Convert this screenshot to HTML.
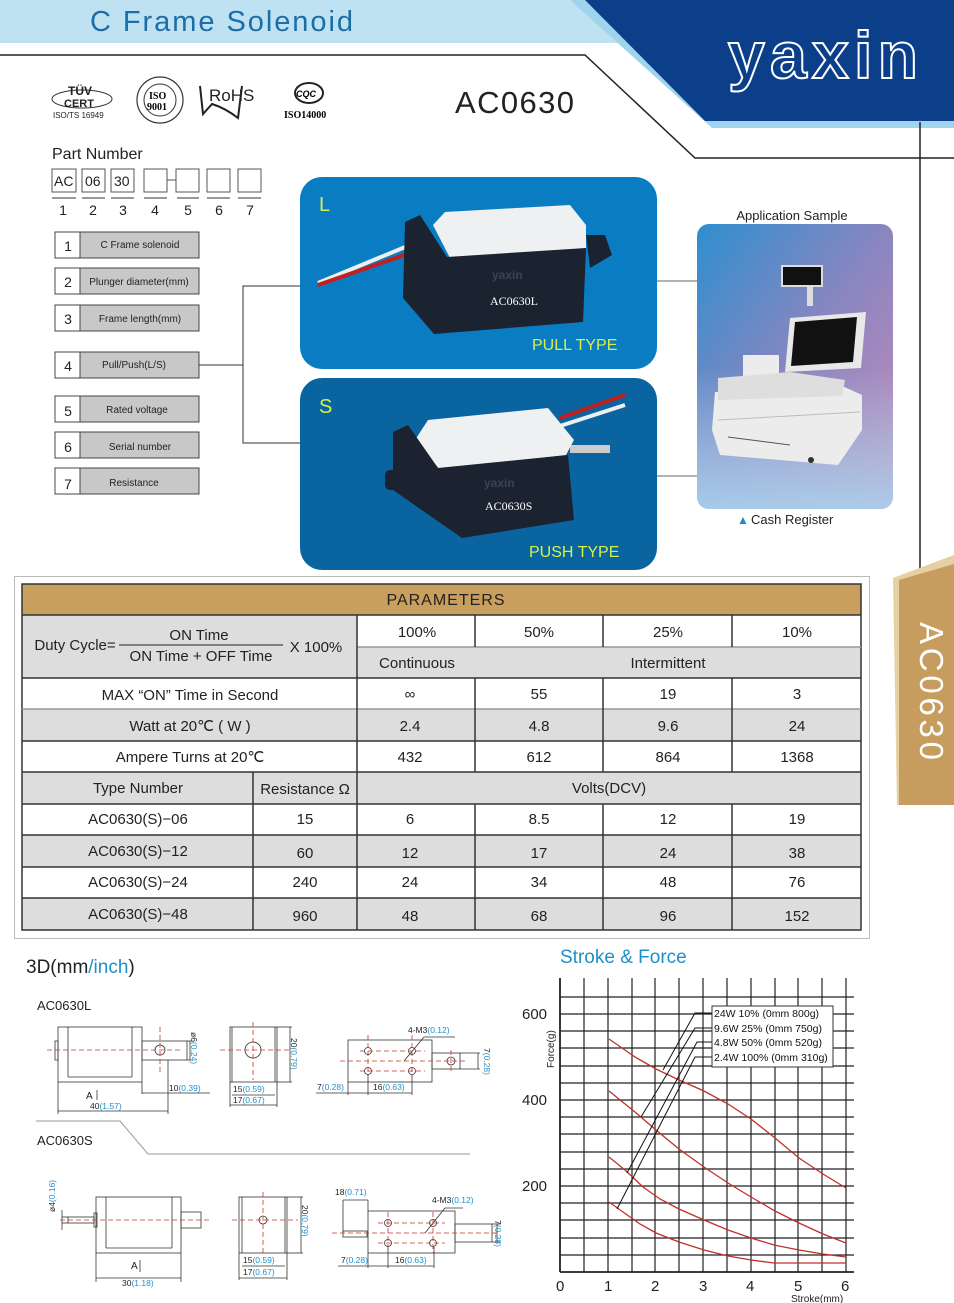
<!DOCTYPE html>
<html><head><meta charset="utf-8"><style>
html,body{margin:0;padding:0;background:#fff;}
svg{display:block;font-family:"Liberation Sans",sans-serif;}
</style></head><body>
<svg width="954" height="1303" viewBox="0 0 954 1303" xmlns="http://www.w3.org/2000/svg">
<defs>
<linearGradient id="app" x1="0" y1="0" x2="1" y2="1">
<stop offset="0" stop-color="#2f8fcf"/><stop offset="0.5" stop-color="#8a86c0"/><stop offset="1" stop-color="#c58ab8"/>
</linearGradient>
<linearGradient id="app2" x1="0" y1="1" x2="0" y2="0">
<stop offset="0" stop-color="#a9d3ee" stop-opacity="0.9"/><stop offset="0.5" stop-color="#a9d3ee" stop-opacity="0"/>
</linearGradient>
</defs>

<!-- header -->
<rect x="0" y="0" width="620" height="43" fill="#bfe2f2"/>
<polygon points="570,0 954,0 954,128 712,128" fill="#9fd3ee"/>
<polygon points="585,0 954,0 954,121 705,121" fill="#0b3f8a"/>
<text x="90" y="31" font-size="29" fill="#1b6ea8" textLength="263">C Frame Solenoid</text>
<text x="728" y="78" font-size="66" font-weight="bold" fill="#0b3f8a" stroke="#fff" stroke-width="2" letter-spacing="2" textLength="192">yaxin</text>
<polyline points="0,55 585,55 695,158 954,158" fill="none" stroke="#222" stroke-width="1.5"/>
<line x1="920" y1="122" x2="920" y2="578" stroke="#222" stroke-width="1.5"/>

<!-- cert logos -->
<ellipse cx="82" cy="99" rx="30" ry="9" fill="none" stroke="#333" stroke-width="1"/>
<text x="68" y="95" font-size="12" font-weight="bold" fill="#222">TÜV</text>
<text x="64" y="107" font-size="11" font-weight="bold" fill="#222">CERT</text>
<text x="53" y="118" font-size="8" fill="#222">ISO/TS 16949</text>
<circle cx="160" cy="100" r="23" fill="none" stroke="#333" stroke-width="1.2"/>
<circle cx="160" cy="100" r="16" fill="none" stroke="#333" stroke-width="1"/>
<text x="149" y="99" font-size="10" font-family="Liberation Serif" font-weight="bold">ISO</text>
<text x="147" y="110" font-size="10" font-family="Liberation Serif" font-weight="bold">9001</text>
<text x="209" y="101" font-size="17" fill="#222">RoHS</text>
<path d="M200,86 L203,114 L212,104 Q225,108 238,118 L242,86" fill="none" stroke="#222" stroke-width="2"/>
<ellipse cx="309" cy="93" rx="14" ry="10" fill="none" stroke="#222" stroke-width="2"/>
<text x="296" y="97" font-size="9" font-weight="bold" font-style="italic">CQC</text>
<text x="284" y="118" font-size="10" font-family="Liberation Serif" font-weight="bold">ISO14000</text>
<text x="455" y="113" font-size="31" fill="#222" textLength="119">AC0630</text>

<!-- part number -->
<text x="52" y="159" font-size="16" fill="#222">Part Number</text>
<g fill="none" stroke="#555" stroke-width="1">
<rect x="52" y="169" width="24" height="23"/><rect x="82" y="169" width="23" height="23"/><rect x="111" y="169" width="23" height="23"/>
<rect x="144" y="169" width="23" height="23"/><rect x="176" y="169" width="23" height="23"/><rect x="207" y="169" width="23" height="23"/><rect x="238" y="169" width="23" height="23"/>
<line x1="167" y1="180" x2="176" y2="180"/>
</g>
<g font-size="14" fill="#222"><text x="54" y="186">AC</text><text x="85" y="186">06</text><text x="114" y="186">30</text></g>
<g stroke="#333" stroke-width="1"><line x1="52" y1="198" x2="76" y2="198"/><line x1="82" y1="198" x2="105" y2="198"/><line x1="111" y1="198" x2="134" y2="198"/><line x1="144" y1="198" x2="167" y2="198"/><line x1="177" y1="198" x2="199" y2="198"/><line x1="207" y1="198" x2="230" y2="198"/><line x1="238" y1="198" x2="261" y2="198"/></g>
<g font-size="14" fill="#222" text-anchor="middle"><text x="63" y="215">1</text><text x="93" y="215">2</text><text x="123" y="215">3</text><text x="155" y="215">4</text><text x="188" y="215">5</text><text x="219" y="215">6</text><text x="250" y="215">7</text></g>

<g font-size="10" fill="#222">
<g transform="translate(0,232)"><rect x="55" y="0" width="144" height="26" fill="#c8c8c8" stroke="#444"/><rect x="55" y="0" width="25" height="26" fill="#fff" stroke="#444"/><text x="68" y="19" font-size="14" text-anchor="middle">1</text><text x="140" y="16" text-anchor="middle">C Frame solenoid</text></g>
<g transform="translate(0,268)"><rect x="55" y="0" width="144" height="26" fill="#c8c8c8" stroke="#444"/><rect x="55" y="0" width="25" height="26" fill="#fff" stroke="#444"/><text x="68" y="19" font-size="14" text-anchor="middle">2</text><text x="139" y="17" text-anchor="middle">Plunger diameter(mm)</text></g>
<g transform="translate(0,305)"><rect x="55" y="0" width="144" height="26" fill="#c8c8c8" stroke="#444"/><rect x="55" y="0" width="25" height="26" fill="#fff" stroke="#444"/><text x="68" y="19" font-size="14" text-anchor="middle">3</text><text x="140" y="17" text-anchor="middle">Frame length(mm)</text></g>
<g transform="translate(0,352)"><rect x="55" y="0" width="144" height="26" fill="#c8c8c8" stroke="#444"/><rect x="55" y="0" width="25" height="26" fill="#fff" stroke="#444"/><text x="68" y="19" font-size="14" text-anchor="middle">4</text><text x="134" y="16" text-anchor="middle">Pull/Push(L/S)</text></g>
<g transform="translate(0,396)"><rect x="55" y="0" width="144" height="26" fill="#c8c8c8" stroke="#444"/><rect x="55" y="0" width="25" height="26" fill="#fff" stroke="#444"/><text x="68" y="20" font-size="14" text-anchor="middle">5</text><text x="137" y="17" text-anchor="middle">Rated voltage</text></g>
<g transform="translate(0,432)"><rect x="55" y="0" width="144" height="26" fill="#c8c8c8" stroke="#444"/><rect x="55" y="0" width="25" height="26" fill="#fff" stroke="#444"/><text x="68" y="20" font-size="14" text-anchor="middle">6</text><text x="140" y="18" text-anchor="middle">Serial number</text></g>
<g transform="translate(0,468)"><rect x="55" y="0" width="144" height="26" fill="#c8c8c8" stroke="#444"/><rect x="55" y="0" width="25" height="26" fill="#fff" stroke="#444"/><text x="68" y="21" font-size="14" text-anchor="middle">7</text><text x="134" y="18" text-anchor="middle">Resistance</text></g>
</g>
<polyline points="199,365 243,365" stroke="#333" fill="none"/>
<polyline points="300,286 243,286 243,443 300,443" stroke="#333" fill="none"/>

<!-- product photos -->
<rect x="300" y="177" width="357" height="192" rx="22" fill="#0a7cc2"/>
<rect x="300" y="378" width="357" height="192" rx="22" fill="#0a64a0"/>
<text x="319" y="211" font-size="20" fill="#d6f04a">L</text>
<text x="319" y="413" font-size="20" fill="#d6f04a">S</text>
<text x="532" y="350" font-size="16" fill="#d6f04a">PULL TYPE</text>
<text x="529" y="557" font-size="16" fill="#d6f04a">PUSH TYPE</text>
<line x1="318" y1="283" x2="410" y2="245" stroke="#eee" stroke-width="4"/>
<line x1="318" y1="285" x2="410" y2="253" stroke="#c02020" stroke-width="4"/>
<polygon points="433,225 445,212 570,205 586,225 586,250 450,258" fill="#eef0f2"/>
<polygon points="405,222 420,215 447,257 586,248 583,322 434,334 403,298" fill="#1b2230"/>
<polygon points="586,235 605,235 612,255 590,268" fill="#1b2230"/>
<text x="490" y="305" font-size="12" font-family="Liberation Serif" fill="#fff">AC0630L</text>
<text x="492" y="279" font-size="12" font-weight="bold" fill="#3a4556">yaxin</text>
<line x1="560" y1="418" x2="625" y2="395" stroke="#c02020" stroke-width="4"/>
<line x1="560" y1="426" x2="625" y2="405" stroke="#eee" stroke-width="4"/>
<rect x="570" y="445" width="40" height="8" fill="#ccc"/>
<polygon points="415,440 428,420 548,408 574,440 566,455 440,470" fill="#eef0f2"/>
<polygon points="393,432 408,425 438,468 568,455 574,520 462,538 393,490" fill="#1b2230"/>
<rect x="385" y="470" width="14" height="20" rx="5" fill="#1b2230"/>
<text x="485" y="510" font-size="12" font-family="Liberation Serif" fill="#fff">AC0630S</text>
<text x="484" y="487" font-size="12" font-weight="bold" fill="#3a4556">yaxin</text>

<line x1="657" y1="281" x2="697" y2="281" stroke="#666"/>
<line x1="657" y1="476" x2="697" y2="476" stroke="#666"/>

<!-- application -->
<text x="792" y="220" font-size="13" fill="#222" text-anchor="middle">Application Sample</text>
<rect x="697" y="224" width="196" height="285" rx="12" fill="url(#app)"/>
<rect x="697" y="224" width="196" height="285" rx="12" fill="url(#app2)"/>
<rect x="782" y="266" width="40" height="20" fill="#111" stroke="#ddd" stroke-width="2"/>
<rect x="807" y="286" width="6" height="20" fill="#ddd"/>
<polygon points="790,318 866,312 861,368 785,372" fill="#e8e8e8"/>
<polygon points="795,322 857,317 853,362 791,366" fill="#111"/>
<rect x="743" y="355" width="36" height="30" fill="#ececec"/>
<polygon points="715,392 840,385 862,395 862,430 838,465 720,455 712,430" fill="#ececec"/>
<polygon points="718,378 790,372 845,380 842,396 718,400" fill="#dedede"/>
<line x1="718" y1="420" x2="860" y2="412" stroke="#bbb"/>
<line x1="728" y1="437" x2="790" y2="445" stroke="#555"/>
<circle cx="811" cy="460" r="3" fill="#333"/>
<text x="737" y="524" font-size="12" fill="#1f8fc8">▲</text>
<text x="751" y="524" font-size="13" fill="#222">Cash Register</text>

<!-- tan tab -->
<polygon points="893,578 954,555 954,805 897,805" fill="#e6cfa0"/>
<polygon points="899,580 954,564 954,805 899,805" fill="#c69c5f"/>
<text transform="translate(920,622) rotate(90)" font-size="33" fill="#fff" textLength="138">AC0630</text>

<!-- parameters table -->
<rect x="14.5" y="576.5" width="855" height="362" fill="none" stroke="#bbb"/>
<rect x="22" y="584" width="839" height="31" fill="#c99f5e"/>
<text x="446" y="605" font-size="16" fill="#222" text-anchor="middle" letter-spacing="1">PARAMETERS</text>
<rect x="22" y="615" width="335" height="63" fill="#dddddd"/>
<rect x="357" y="647" width="504" height="31" fill="#dddddd"/>
<rect x="22" y="709" width="839" height="32" fill="#dddddd"/>
<rect x="22" y="772" width="839" height="32" fill="#dddddd"/>
<rect x="22" y="835" width="839" height="32" fill="#dddddd"/>
<rect x="22" y="898" width="839" height="32" fill="#dddddd"/>
<g stroke="#333" stroke-width="1.5" fill="none">
<rect x="22" y="584" width="839" height="346"/>
<line x1="22" y1="615" x2="861" y2="615"/>
<line x1="357" y1="647" x2="861" y2="647" stroke="#999"/>
<line x1="22" y1="678" x2="861" y2="678"/>
<line x1="22" y1="709" x2="861" y2="709" stroke="#999"/>
<line x1="22" y1="741" x2="861" y2="741"/>
<line x1="22" y1="772" x2="861" y2="772"/>
<line x1="22" y1="804" x2="861" y2="804"/>
<line x1="22" y1="835" x2="861" y2="835"/>
<line x1="22" y1="867" x2="861" y2="867"/>
<line x1="22" y1="898" x2="861" y2="898"/>
<line x1="357" y1="615" x2="357" y2="930"/>
<line x1="475" y1="615" x2="475" y2="647"/><line x1="603" y1="615" x2="603" y2="647"/><line x1="732" y1="615" x2="732" y2="647"/>
<line x1="475" y1="678" x2="475" y2="772"/><line x1="603" y1="678" x2="603" y2="772"/><line x1="732" y1="678" x2="732" y2="772"/>
<line x1="475" y1="804" x2="475" y2="930"/><line x1="603" y1="804" x2="603" y2="930"/><line x1="732" y1="804" x2="732" y2="930"/>
<line x1="253" y1="772" x2="253" y2="930"/>
</g>
<line x1="119" y1="645" x2="283" y2="645" stroke="#222"/>
<g font-size="15" fill="#222" text-anchor="middle">
<text x="75" y="650">Duty Cycle=</text>
<text x="199" y="640">ON Time</text>
<text x="201" y="661">ON Time + OFF Time</text>
<text x="316" y="652">X 100%</text>
<text x="417" y="637">100%</text><text x="539" y="637">50%</text><text x="668" y="637">25%</text><text x="797" y="637">10%</text>
<text x="417" y="668">Continuous</text><text x="668" y="668">Intermittent</text>
<text x="190" y="700">MAX  “ON”  Time in Second</text>
<text x="410" y="699">∞</text><text x="539" y="699">55</text><text x="668" y="699">19</text><text x="797" y="699">3</text>
<text x="190" y="731">Watt at 20℃ ( W )</text>
<text x="410" y="731">2.4</text><text x="539" y="731">4.8</text><text x="668" y="731">9.6</text><text x="797" y="731">24</text>
<text x="190" y="762">Ampere Turns at 20℃</text>
<text x="410" y="762">432</text><text x="539" y="762">612</text><text x="668" y="762">864</text><text x="797" y="762">1368</text>
<text x="138" y="793">Type Number</text><text x="305" y="794">Resistance Ω</text><text x="609" y="793">Volts(DCV)</text>
<text x="138" y="824">AC0630(S)−06</text><text x="305" y="824">15</text><text x="410" y="824">6</text><text x="539" y="824">8.5</text><text x="668" y="824">12</text><text x="797" y="824">19</text>
<text x="138" y="856">AC0630(S)−12</text><text x="305" y="858">60</text><text x="410" y="858">12</text><text x="539" y="858">17</text><text x="668" y="858">24</text><text x="797" y="858">38</text>
<text x="138" y="887">AC0630(S)−24</text><text x="305" y="887">240</text><text x="410" y="887">24</text><text x="539" y="887">34</text><text x="668" y="887">48</text><text x="797" y="887">76</text>
<text x="138" y="919">AC0630(S)−48</text><text x="305" y="921">960</text><text x="410" y="921">48</text><text x="539" y="921">68</text><text x="668" y="921">96</text><text x="797" y="921">152</text>
</g>

<!-- 3D drawings -->
<text x="26" y="973" font-size="19" fill="#222">3D(mm<tspan fill="#1f8fc8">/inch</tspan>)</text>
<text x="37" y="1010" font-size="13" fill="#222">AC0630L</text>
<text x="37" y="1145" font-size="13" fill="#222">AC0630S</text>
<polyline points="36,1121 120,1121 148,1154 470,1154" fill="none" stroke="#999"/>
<g fill="none" stroke="#333" stroke-width="0.8">
<rect x="58" y="1027" width="84" height="55"/><line x1="68" y1="1027" x2="68" y2="1077"/><line x1="132" y1="1027" x2="132" y2="1077"/><line x1="68" y1="1077" x2="132" y2="1077"/>
<rect x="142" y="1041" width="45" height="19"/><rect x="55" y="1041" width="3" height="19"/>
<circle cx="160" cy="1050" r="5"/>
<line x1="58" y1="1082" x2="58" y2="1114"/><line x1="168" y1="1060" x2="168" y2="1114"/><line x1="58" y1="1111" x2="168" y2="1111"/>
<line x1="142" y1="1082" x2="142" y2="1094"/><line x1="142" y1="1093" x2="210" y2="1093"/>
<line x1="187" y1="1041" x2="192" y2="1041"/><line x1="187" y1="1060" x2="192" y2="1060"/><line x1="190" y1="1041" x2="190" y2="1060"/>
<line x1="97" y1="1090" x2="97" y2="1100"/>
<rect x="230" y="1027" width="47" height="55"/><line x1="232" y1="1027" x2="232" y2="1082"/><line x1="275" y1="1027" x2="275" y2="1082"/>
<circle cx="253" cy="1050" r="8"/>
<line x1="277" y1="1027" x2="292" y2="1027"/><line x1="277" y1="1082" x2="292" y2="1082"/><line x1="290" y1="1027" x2="290" y2="1082"/>
<line x1="232" y1="1095" x2="275" y2="1095"/><line x1="230" y1="1105" x2="277" y2="1105"/><line x1="230" y1="1082" x2="230" y2="1107"/><line x1="277" y1="1082" x2="277" y2="1107"/>
<rect x="348" y="1040" width="84" height="42"/><rect x="432" y="1053" width="28" height="16"/>
<circle cx="368" cy="1051" r="3.5"/><circle cx="412" cy="1051" r="3.5"/><circle cx="368" cy="1071" r="3.5"/><circle cx="412" cy="1071" r="3.5"/>
<circle cx="451" cy="1061" r="4"/>
<line x1="404" y1="1061" x2="424" y2="1037"/><line x1="424" y1="1037" x2="455" y2="1037"/>
<line x1="460" y1="1053" x2="480" y2="1053"/><line x1="460" y1="1069" x2="480" y2="1069"/><line x1="478" y1="1053" x2="478" y2="1069"/>
<line x1="316" y1="1093" x2="412" y2="1093"/><line x1="348" y1="1082" x2="348" y2="1095"/><line x1="368" y1="1075" x2="368" y2="1095"/><line x1="412" y1="1075" x2="412" y2="1095"/>
<rect x="96" y="1197" width="85" height="56"/><line x1="106" y1="1197" x2="106" y2="1248"/><line x1="172" y1="1197" x2="172" y2="1248"/><line x1="106" y1="1248" x2="172" y2="1248"/>
<rect x="181" y="1212" width="20" height="16"/><rect x="68" y="1217" width="26" height="6"/><rect x="94" y="1213" width="3" height="14"/>
<line x1="62" y1="1217" x2="68" y2="1217"/><line x1="62" y1="1223" x2="68" y2="1223"/><line x1="62" y1="1210" x2="62" y2="1230"/>
<line x1="96" y1="1253" x2="96" y2="1282"/><line x1="181" y1="1253" x2="181" y2="1282"/><line x1="96" y1="1278" x2="181" y2="1278"/>
<line x1="140" y1="1260" x2="140" y2="1272"/>
<rect x="239" y="1197" width="48" height="56"/><line x1="242" y1="1197" x2="242" y2="1253"/><line x1="285" y1="1197" x2="285" y2="1253"/>
<circle cx="263" cy="1220" r="4"/>
<line x1="287" y1="1197" x2="303" y2="1197"/><line x1="287" y1="1253" x2="303" y2="1253"/><line x1="301" y1="1197" x2="301" y2="1253"/>
<line x1="242" y1="1266" x2="285" y2="1266"/><line x1="239" y1="1278" x2="287" y2="1278"/><line x1="239" y1="1253" x2="239" y2="1280"/><line x1="287" y1="1253" x2="287" y2="1280"/>
<rect x="368" y="1211" width="87" height="42"/><rect x="455" y="1224" width="37" height="18"/><rect x="343" y="1231" width="24" height="6"/>
<circle cx="388" cy="1223" r="3.5"/><circle cx="433" cy="1223" r="3.5"/><circle cx="388" cy="1243" r="3.5"/><circle cx="433" cy="1243" r="3.5"/>
<line x1="425" y1="1233" x2="445" y2="1208"/><line x1="445" y1="1208" x2="463" y2="1208"/>
<line x1="343" y1="1200" x2="343" y2="1233"/><line x1="368" y1="1200" x2="368" y2="1211"/><line x1="343" y1="1200" x2="368" y2="1200"/>
<line x1="492" y1="1224" x2="500" y2="1224"/><line x1="492" y1="1242" x2="500" y2="1242"/><line x1="497" y1="1224" x2="497" y2="1242"/>
<line x1="338" y1="1266" x2="434" y2="1266"/><line x1="368" y1="1253" x2="368" y2="1268"/><line x1="388" y1="1247" x2="388" y2="1268"/><line x1="434" y1="1247" x2="434" y2="1268"/>
</g>
<g stroke="#c0392b" stroke-width="0.8" stroke-dasharray="5,3" fill="none">
<line x1="47" y1="1050" x2="183" y2="1050"/><line x1="160" y1="1027" x2="160" y2="1072"/>
<line x1="220" y1="1050" x2="290" y2="1050"/><line x1="253" y1="1022" x2="253" y2="1080"/>
<line x1="340" y1="1061" x2="465" y2="1061"/><line x1="360" y1="1051" x2="425" y2="1051"/><line x1="360" y1="1071" x2="425" y2="1071"/>
<line x1="368" y1="1035" x2="368" y2="1082"/><line x1="412" y1="1035" x2="412" y2="1082"/><line x1="451" y1="1050" x2="451" y2="1072"/>
<line x1="60" y1="1220" x2="210" y2="1220"/>
<line x1="232" y1="1220" x2="298" y2="1220"/><line x1="263" y1="1192" x2="263" y2="1255"/>
<line x1="332" y1="1233" x2="500" y2="1233"/><line x1="378" y1="1223" x2="445" y2="1223"/><line x1="378" y1="1243" x2="445" y2="1243"/>
<line x1="388" y1="1212" x2="388" y2="1253"/><line x1="433" y1="1212" x2="433" y2="1253"/>
</g>
<g font-size="8.5" fill="#222">
<text x="86" y="1099" font-size="10">A</text><text x="90" y="1109">40<tspan fill="#1f8fc8">(1.57)</tspan></text>
<text x="169" y="1091">10<tspan fill="#1f8fc8">(0.39)</tspan></text>
<text transform="translate(191,1032) rotate(90)">ø6<tspan fill="#1f8fc8">(0.24)</tspan></text>
<text transform="translate(291,1038) rotate(90)">20<tspan fill="#1f8fc8">(0.79)</tspan></text>
<text x="233" y="1092">15<tspan fill="#1f8fc8">(0.59)</tspan></text>
<text x="233" y="1103">17<tspan fill="#1f8fc8">(0.67)</tspan></text>
<text x="408" y="1033">4-M3<tspan fill="#1f8fc8">(0.12)</tspan></text>
<text transform="translate(484,1048) rotate(90)">7<tspan fill="#1f8fc8">(0.28)</tspan></text>
<text x="317" y="1090">7<tspan fill="#1f8fc8">(0.28)</tspan></text>
<text x="373" y="1090">16<tspan fill="#1f8fc8">(0.63)</tspan></text>
<text x="131" y="1269" font-size="10">A</text><text x="122" y="1286">30<tspan fill="#1f8fc8">(1.18)</tspan></text>
<text transform="translate(55,1212) rotate(-90)">ø4<tspan fill="#1f8fc8">(0.16)</tspan></text>
<text transform="translate(302,1205) rotate(90)">20<tspan fill="#1f8fc8">(0.79)</tspan></text>
<text x="243" y="1263">15<tspan fill="#1f8fc8">(0.59)</tspan></text>
<text x="243" y="1275">17<tspan fill="#1f8fc8">(0.67)</tspan></text>
<text x="335" y="1195">18<tspan fill="#1f8fc8">(0.71)</tspan></text>
<text x="432" y="1203">4-M3<tspan fill="#1f8fc8">(0.12)</tspan></text>
<text transform="translate(495,1220) rotate(90)">7<tspan fill="#1f8fc8">(0.28)</tspan></text>
<text x="341" y="1263">7<tspan fill="#1f8fc8">(0.28)</tspan></text>
<text x="395" y="1263">16<tspan fill="#1f8fc8">(0.63)</tspan></text>
</g>

<!-- chart -->
<text x="560" y="963" font-size="19" fill="#1f8fc8">Stroke &amp; Force</text>
<g stroke="#222" stroke-width="1.2">
<line x1="560" y1="978" x2="560" y2="1272" stroke-width="1.8"/>
<line x1="584" y1="978" x2="584" y2="1272"/><line x1="608" y1="978" x2="608" y2="1272"/><line x1="632" y1="978" x2="632" y2="1272"/>
<line x1="655" y1="978" x2="655" y2="1272"/><line x1="679" y1="978" x2="679" y2="1272"/><line x1="703" y1="978" x2="703" y2="1272"/>
<line x1="727" y1="978" x2="727" y2="1272"/><line x1="751" y1="978" x2="751" y2="1272"/><line x1="775" y1="978" x2="775" y2="1272"/>
<line x1="798" y1="978" x2="798" y2="1272"/><line x1="822" y1="978" x2="822" y2="1272"/><line x1="846" y1="978" x2="846" y2="1272"/>
<line x1="560" y1="1272" x2="854" y2="1272" stroke-width="1.8"/>
<line x1="560" y1="1255" x2="854" y2="1255"/><line x1="560" y1="1238" x2="854" y2="1238"/><line x1="560" y1="1220" x2="854" y2="1220"/>
<line x1="560" y1="1203" x2="854" y2="1203"/><line x1="560" y1="1186" x2="854" y2="1186"/><line x1="560" y1="1169" x2="854" y2="1169"/>
<line x1="560" y1="1152" x2="854" y2="1152"/><line x1="560" y1="1134" x2="854" y2="1134"/><line x1="560" y1="1117" x2="854" y2="1117"/>
<line x1="560" y1="1100" x2="854" y2="1100"/><line x1="560" y1="1083" x2="854" y2="1083"/><line x1="560" y1="1066" x2="854" y2="1066"/>
<line x1="560" y1="1048" x2="854" y2="1048"/><line x1="560" y1="1031" x2="854" y2="1031"/><line x1="560" y1="1014" x2="854" y2="1014"/>
<line x1="560" y1="997" x2="854" y2="997"/>
</g>
<g fill="none" stroke="#c0302a" stroke-width="1.3">
<polyline points="609,1039 635,1057 656,1069 679,1080 704,1091 728,1104 751,1119 775,1138 799,1158 823,1174 846,1188"/>
<polyline points="609,1091 635,1112 656,1130 679,1149 704,1167 728,1183 751,1197 775,1211 799,1223 823,1234 846,1243"/>
<polyline points="609,1157 625,1170 643,1187 660,1199 679,1209 704,1220 728,1230 751,1238 774,1245 799,1250 823,1254 846,1257"/>
<polyline points="609,1202 623,1212 640,1224 656,1233 679,1242 704,1250 728,1256 751,1260 774,1263 846,1263"/>
</g>
<g fill="none" stroke="#111" stroke-width="1">
<polyline points="712,1013 695,1013 663,1070"/>
<polyline points="712,1028 695,1028 641,1117"/>
<polyline points="712,1042 697,1042 627,1173"/>
<polyline points="712,1057 695,1057 617,1209"/>
</g>
<rect x="712" y="1006" width="121" height="61" fill="#fff" stroke="#333"/>
<g font-size="10.5" fill="#111">
<text x="714" y="1017">24W 10% (0mm 800g)</text>
<text x="714" y="1032">9.6W 25% (0mm 750g)</text>
<text x="714" y="1046">4.8W 50% (0mm 520g)</text>
<text x="714" y="1061">2.4W 100% (0mm 310g)</text>
</g>
<g font-size="15" fill="#222">
<text x="522" y="1019">600</text><text x="522" y="1105">400</text><text x="522" y="1191">200</text>
<text x="556" y="1291">0</text><text x="604" y="1291">1</text><text x="651" y="1291">2</text><text x="699" y="1291">3</text><text x="746" y="1291">4</text><text x="794" y="1291">5</text><text x="841" y="1291">6</text>
</g>
<text transform="translate(554,1068) rotate(-90)" font-size="10" fill="#222">Force(g)</text>
<text x="791" y="1302" font-size="10" fill="#222">Stroke(mm)</text>
</svg>
</body></html>
